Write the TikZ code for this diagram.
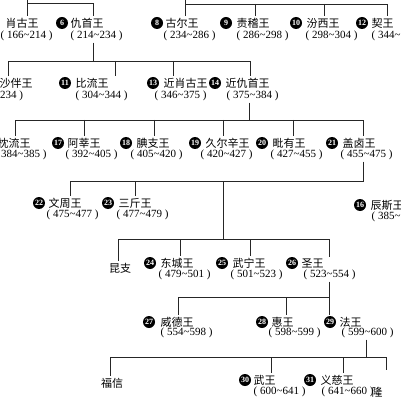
\documentclass[tikz,border=0pt]{standalone}
\usepackage{fontspec}
\setmainfont{Liberation Serif}
\newfontfamily\cjk{Noto Sans CJK SC}
\newcommand\kingK[9]{%
  \node[numc] (#1c) at (#2,#5) {#3};
  \node[kname] (#1) at (#4,#5) {#6};
  \node[kdate] (#1d) at (#7,#8) {#9};}
\begin{document}
\begin{tikzpicture}[x=1pt,y=-1pt,
  ln/.style={line width=0.7pt, black!85},
  numc/.style={circle, fill=black, text=white, inner sep=0pt, minimum size=12pt, font=\bfseries\fontsize{8}{8}\selectfont},
  kname/.style={anchor=west, inner sep=1.5pt, font=\cjk\fontsize{11}{11}\selectfont},
  kdate/.style={anchor=west, inner sep=1.5pt, font=\fontsize{11}{11}\selectfont},
]
\fill[white] (0,0) rectangle (400,403);
\useasboundingbox (0,0) rectangle (400,403);
\clip (0,0) rectangle (400,403);

% Row 1
\node[kname] (k5) at (4,23) {肖古王};
\node[kdate] (k5d) at (-1,36) {( 166\textasciitilde214 )};
\kingK{k6}{62}{6}{69}{23}{仇首王}{69}{36}{( 214\textasciitilde234 )}
\kingK{k8}{157}{8}{164}{23}{古尔王}{162}{36}{( 234\textasciitilde286 )}
\kingK{k9}{226}{9}{235}{23}{责稽王}{235}{36}{( 286\textasciitilde298 )}
\kingK{k10}{296}{10}{305}{23}{汾西王}{304}{36}{( 298\textasciitilde304 )}
\kingK{k12}{362}{12}{370}{23}{契王}{370}{36}{( 344\textasciitilde346 )}

% Row 2
\node[kname] (k7) at (-2,83) {沙伴王};
\node[kdate] (k7d) at (-8,96) {( 234 )};
\kingK{k11}{65}{11}{74}{83}{比流王}{74}{96}{( 304\textasciitilde344 )}
\kingK{k13}{153}{13}{162}{83}{近肖古王}{153}{96}{( 346\textasciitilde375 )}
\kingK{k14}{215}{14}{224}{83}{近仇首王}{225}{96}{( 375\textasciitilde384 )}

% Row 3
\node[kname] (k15) at (-4,143) {枕流王};
\node[kdate] (k15d) at (-7,155) {( 384\textasciitilde385 )};
\kingK{k17}{58}{17}{66}{143}{阿莘王}{64}{155}{( 392\textasciitilde405 )}
\kingK{k18}{126}{18}{135}{143}{腆支王}{129}{155}{( 405\textasciitilde420 )}
\kingK{k19}{195}{19}{204}{143}{久尔辛王}{199}{155}{( 420\textasciitilde427 )}
\kingK{k20}{262}{20}{271}{143}{毗有王}{269}{155}{( 427\textasciitilde455 )}
\kingK{k21}{332}{21}{341}{143}{盖卤王}{339}{155}{( 455\textasciitilde475 )}

% Row 4
\kingK{k22}{39}{22}{47}{203}{文周王}{45}{215}{( 475\textasciitilde477 )}
\kingK{k23}{108}{23}{117}{203}{三斤王}{115}{215}{( 477\textasciitilde479 )}
\kingK{k16}{360}{16}{369}{205}{辰斯王}{370}{217}{( 385\textasciitilde392 )}

% Row 5
\node[kname, anchor=center] (kunzhi) at (120,268) {昆支};
\kingK{k24}{150}{24}{159}{263}{东城王}{157}{275}{( 479\textasciitilde501 )}
\kingK{k25}{222}{25}{231}{263}{武宁王}{229}{275}{( 501\textasciitilde523 )}
\kingK{k26}{292}{26}{300}{263}{圣王}{302}{275}{( 523\textasciitilde554 )}

% Row 6
\kingK{k27}{149}{27}{159}{322}{威德王}{159}{333}{( 554\textasciitilde598 )}
\kingK{k28}{262}{28}{270}{322}{惠王}{267}{333}{( 598\textasciitilde599 )}
\kingK{k29}{330}{29}{338}{322}{法王}{340}{333}{( 599\textasciitilde600 )}

% Row 7
\node[kname, anchor=center] (fuxin) at (112,383) {福信};
\kingK{k30}{245}{30}{252}{380}{武王}{252}{392}{( 600\textasciitilde641 )}
\kingK{k31}{310}{31}{319}{380}{义慈王}{320}{392}{( 641\textasciitilde660 )}
\node[kname, anchor=center] (long) at (377,392) {隆};

% Connectors
\coordinate (a0) at (27,0); \coordinate (a1) at (27,3); \coordinate (a2) at (93,3);
\draw[ln] (a0) -- (a0 |- k5.north);
\draw[ln] (a1) -- (a2) -- (a2 |- k6.north);

\coordinate (b0) at (185,0); \coordinate (b1) at (185,4); \coordinate (b2) at (255,4);
\coordinate (b3) at (324,4); \coordinate (b4) at (387,4);
\draw[ln] (b0) -- (b0 |- k8.north);
\draw[ln] (b1) -- (b4) -- (b4 |- k12.north);
\draw[ln] (b2) -- (b2 |- k9.north);
\draw[ln] (b3) -- (b3 |- k10.north);

\coordinate (c0) at (93,61); \coordinate (c1) at (8,61); \coordinate (c2) at (115,61);
\coordinate (c3) at (173,61); \coordinate (c4) at (250,61);
\draw[ln] (k6d.south -| c0) -- (c0);
\draw[ln] (c1 |- k7.north) -- (c1) -- (c4) -- (c4 |- k14.north);
\draw[ln] (c2) -- (c2 |- k11.north);
\draw[ln] (c3) -- (c3 |- k13.north);

\coordinate (d0) at (249,120); \coordinate (d1) at (15,120); \coordinate (d2) at (84,120);
\coordinate (d3) at (154,120); \coordinate (d4) at (223,120); \coordinate (d5) at (293,120);
\coordinate (d6) at (363,120);
\draw[ln] (k14d.south -| d0) -- (d0);
\draw[ln] (d1 |- k15.north) -- (d1) -- (d6) -- (d6 |- k21.north);
\draw[ln] (d2) -- (d2 |- k17.north);
\draw[ln] (d3) -- (d3 |- k18.north);
\draw[ln] (d4) -- (d4 |- k19.north);
\draw[ln] (d5) -- (d5 |- k20.north);

\coordinate (e0) at (363,181); \coordinate (e1) at (70,181); \coordinate (e2) at (135,181);
\coordinate (e3) at (223,181);
\draw[ln] (k21d.south -| e0) -- (e0) -- (e1) -- (e1 |- k22.north);
\draw[ln] (e2) -- (e2 |- k23.north);

\coordinate (f0) at (223,239); \coordinate (f1) at (118,239); \coordinate (f2) at (180,239);
\coordinate (f3) at (250,239); \coordinate (f4) at (329,239);
\draw[ln] (e3) -- (f0);
\draw[ln] (f1 |- kunzhi.north) -- (f1) -- (f4) -- (f4 |- k26.north);
\draw[ln] (f2) -- (f2 |- k24.north);
\draw[ln] (f3) -- (f3 |- k25.north);

\coordinate (g0) at (329,297); \coordinate (g1) at (178,297); \coordinate (g2) at (286,297);
\draw[ln] (k26d.south -| g0) -- (g0 |- k29.north);
\draw[ln] (g0) -- (g1) -- (g1 |- k27.north);
\draw[ln] (g2) -- (g2 |- k28.north);

\coordinate (h0) at (366,357); \coordinate (h1) at (110,357); \coordinate (h2) at (271,357);
\coordinate (h3) at (343,357); \coordinate (h4) at (386,357); \coordinate (h5) at (386,370);
\draw[ln] (k29d.south -| h0) -- (h0);
\draw[ln] (h1 |- fuxin.north) -- (h1) -- (h4) -- (h5);
\draw[ln] (h2) -- (h2 |- k30.north);
\draw[ln] (h3) -- (h3 |- k31.north);
\end{tikzpicture}
\end{document}
